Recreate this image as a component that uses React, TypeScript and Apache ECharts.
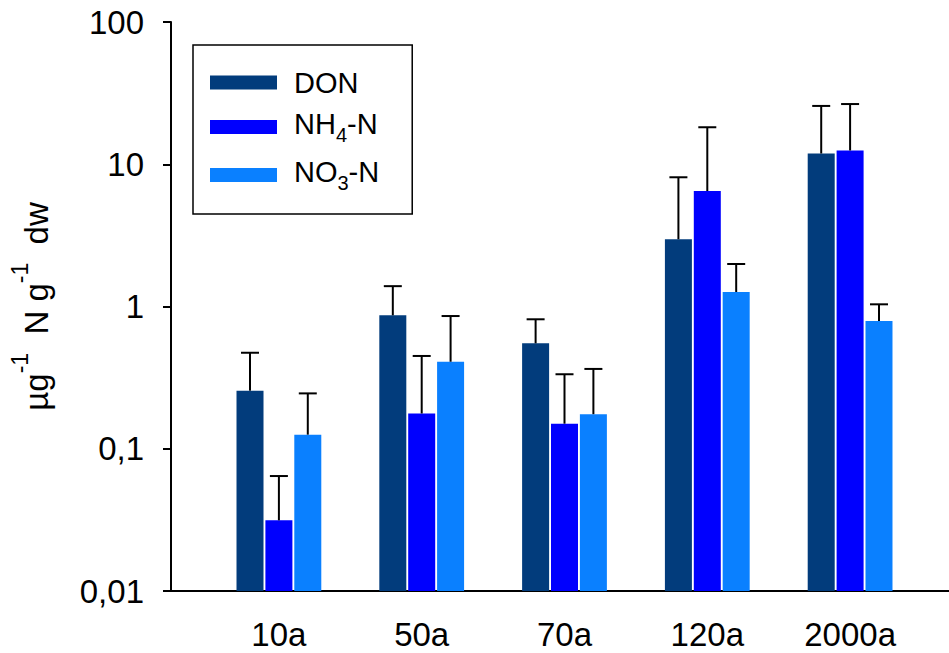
import React, { useEffect, useRef } from "react";
import * as echarts from "echarts";

const categories = ["10a", "50a", "70a", "120a", "2000a"];
const seriesNames = ["DON", "NH4-N", "NO3-N"];
const seriesColors = ["#023c7c", "#0000fe", "#0a80ff"];
const donValues = [0.256, 0.867, 0.551, 2.97, 11.9];
const donUpper = [0.473, 1.39, 0.813, 8.1, 25.7];
const nh4Values = [0.0314, 0.177, 0.15, 6.48, 12.5];
const nh4Upper = [0.0643, 0.449, 0.334, 18.2, 26.5];
const no3Values = [0.1256, 0.409, 0.175, 1.265, 0.791];
const no3Upper = [0.245, 0.857, 0.364, 1.99, 1.036];
const yTickLabels = ["0,01", "0,1", "1", "10", "100"];
const legendRich: Record<string, string> = {
  DON: "{c|DON}",
  "NH4-N": "{a|NH}{b|4}{a|-N}",
  "NO3-N": "{a|NO}{b|3}{a|-N}",
};

const FONT = "Liberation Sans, Arial, sans-serif";
const BAR_W = 27;
const BAR_GAP = 0.07;

export default function App() {
  const ref = useRef<HTMLDivElement>(null);
  useEffect(() => {
    if (!ref.current) return;
    const chart = echarts.init(ref.current, undefined, { renderer: "svg" });
    const values = [donValues, nh4Values, no3Values];
    const uppers = [donUpper, nh4Upper, no3Upper];
    const errData: number[][] = [];
    for (let s = 0; s < 3; s++) {
      for (let i = 0; i < categories.length; i++) {
        errData.push([i, s, values[s][i], uppers[s][i]]);
      }
    }
    const step = BAR_W * (1 + BAR_GAP);
    chart.setOption({
      animation: false,
      textStyle: { fontFamily: FONT },
      grid: { left: 206.5, right: 27.5, top: 22, bottom: 62 },
      legend: {
        orient: "vertical",
        left: 193,
        top: 45,
        data: seriesNames,
        icon: "rect",
        itemWidth: 67,
        itemHeight: 14,
        itemGap: 12,
        padding: [23, 33, 21, 17],
        borderColor: "#000",
        borderWidth: 1.5,
        formatter: (n: string) => legendRich[n],
        textStyle: {
          color: "#000",
          fontFamily: FONT,
          fontSize: 29,
          padding: [0, 0, 0, 12],
          rich: {
            c: { fontSize: 29, fontFamily: FONT, color: "#000", lineHeight: 24 },
            a: { fontSize: 29, fontFamily: FONT, color: "#000", lineHeight: 36, verticalAlign: "top" },
            b: { fontSize: 20, fontFamily: FONT, color: "#000", lineHeight: 20, verticalAlign: "bottom" },
          },
        },
      },
      xAxis: {
        type: "category",
        data: categories,
        axisLine: { lineStyle: { color: "#000", width: 2 } },
        axisTick: { alignWithLabel: true, length: 8, lineStyle: { color: "#000", width: 2 } },
        axisLabel: { color: "#000", fontSize: 33, lineHeight: 33, fontFamily: FONT, margin: 27 },
        splitLine: { show: false },
      },
      yAxis: {
        type: "log",
        logBase: 10,
        min: 0.01,
        max: 100,
        startValue: 0.01,
        offset: 36.5,
        name: "{a|µg}{s|-1}{a|  N g}{s|-1}{a|  dw}",
        nameLocation: "middle",
        nameRotate: 90,
        nameGap: 107,
        nameTextStyle: {
          rich: {
            a: { fontSize: 33, fontFamily: FONT, color: "#000", lineHeight: 56 },
            s: { fontSize: 23, fontFamily: FONT, color: "#000", lineHeight: 23, verticalAlign: "top" },
          },
        },
        axisLine: { show: true, lineStyle: { color: "#000", width: 2 } },
        axisTick: { show: true, length: 8, lineStyle: { color: "#000", width: 2 } },
        minorTick: { show: false },
        splitLine: { show: false },
        axisLabel: {
          color: "#000",
          fontSize: 33,
          fontFamily: FONT,
          margin: 27,
          formatter: (v: number) => yTickLabels[Math.round(Math.log10(v)) + 2],
        },
      },
      graphic: [
        { type: "line", shape: { x1: 170, y1: 591, x2: 208, y2: 591 }, style: { stroke: "#000", lineWidth: 2 } },
        { type: "line", shape: { x1: 920, y1: 591, x2: 949, y2: 591 }, style: { stroke: "#000", lineWidth: 2 } },
      ],
      series: [
        ...seriesNames.map((n, s) => ({
          name: n,
          type: "bar",
          data: values[s],
          barWidth: BAR_W,
          barGap: BAR_GAP * 100 + "%",
          itemStyle: { color: seriesColors[s] },
        })),
        {
          type: "custom",
          name: "err",
          data: errData,
          dimensions: ["cat", "ser", "val", "up"],
          encode: { x: 0, y: [2, 3] },
          z: 5,
          renderItem: (params: any, api: any) => {
            const cat = api.value(0);
            const si = api.value(1);
            const v = api.value(2);
            const up = api.value(3);
            const p0 = api.coord([cat, v]);
            const p1 = api.coord([cat, up]);
            const x = p0[0] + (si - 1) * step;
            return {
              type: "group",
              children: [
                { type: "line", shape: { x1: x, y1: p0[1], x2: x, y2: p1[1] }, style: { stroke: "#000", lineWidth: 2 } },
                { type: "line", shape: { x1: x - 9, y1: p1[1], x2: x + 9, y2: p1[1] }, style: { stroke: "#000", lineWidth: 2 } },
              ],
            };
          },
        },
      ],
    });
    return () => chart.dispose();
  }, []);
  return <div ref={ref} style={{ position: "fixed", left: 0, top: 0, width: 949, height: 653, background: "#fff" }} />;
}
